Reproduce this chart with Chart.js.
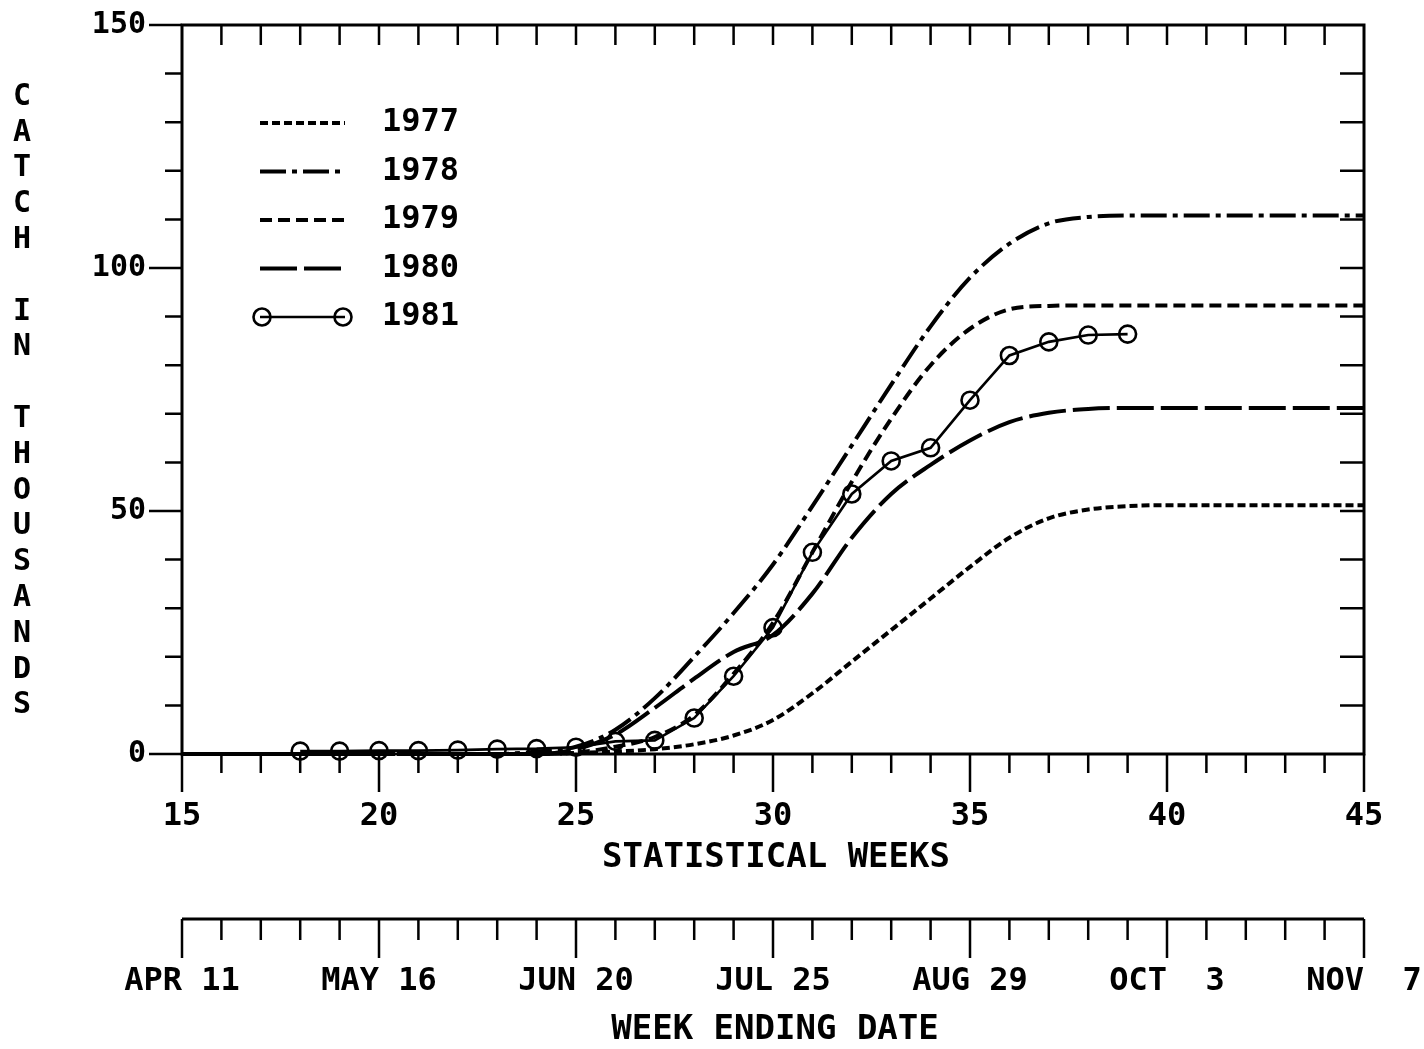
<!DOCTYPE html>
<html>
<head>
<meta charset="utf-8">
<script src="https://cdn.jsdelivr.net/npm/chart.js@4.4.0/dist/chart.umd.min.js"></script>
<style>
  html, body { margin: 0; padding: 0; background: #fff; }
  canvas { display: block; }
</style>
</head>
<body>
<canvas id="chart" width="1424" height="1049"></canvas>
<script>
// statistical weeks 15..45
const weeks = [15,16,17,18,19,20,21,22,23,24,25,26,27,28,29,30,31,32,33,34,35,36,37,38,39,40,41,42,43,44,45];

// cumulative catch, thousands
const catch1977 = [0,0,0,0,0,0,0,0,0,0, 0.2,0.5,1,2,3.8,7,12.5,19,25.5,32,38.5,44.5,48.5,50.3,51,51.2,51.2,51.2,51.2,51.2,51.2];
const catch1978 = [0,0,0,0,0,0,0,0,0, 0.5,1.5,5,11.5,20,29,39,51,63.5,76,88,98,105,109.2,110.5, 110.8,110.8,110.8,110.8,110.8,110.8,110.8];
const catch1979 = [0,0,0,0,0,0,0,0,0,0, 0.3,1.5,3.5,8,16.5,27,41.5,56,69,80,87.5,91.5,92.2, 92.3,92.3,92.3,92.3,92.3,92.3,92.3,92.3];
const catch1980 = [0,0,0,0,0,0,0,0,0,0, 1,4,9.5,15.5,21,24.5,33,44.5,53.5,59.5,64.5,68.3,70.2,71, 71.2,71.2,71.2,71.2,71.2,71.2,71.2];

const weeks1981 = [18,19,20,21,22,23,24,25,26,27,28,29,30,31,32,33,34,35,36,37,38,39];
const catch1981 = [0.6,0.6,0.7,0.7,0.8,1.0,1.1,1.4,2.6,2.8,7.4,16,26,41.5,53.5,60.3,63,72.8,82,84.8,86.2,86.4];

const years = ['1977','1978','1979','1980','1981'];
const weekTicks = [15,20,25,30,35,40,45];
const dateLabels = ['APR 11','MAY 16','JUN 20','JUL 25','AUG 29','OCT  3','NOV  7'];
const catchTicks = [0,50,100,150];
const yTitle = 'CATCH IN THOUSANDS';

const FONT = '"DejaVu Sans Mono", "Liberation Mono", monospace';

function pts(xs, ys) {
    return xs.map((x, i) => ({x: x, y: ys[i]}))
}

const dashed = (label, values, dash) => ({
    label: label,
    data: pts(weeks, values),
    borderColor: '#000',
    borderWidth: 4,
    borderDash: dash,
    pointRadius: 0,
    cubicInterpolationMode: 'monotone',
    fill: false
})

const datasets = [
    dashed(years[0], catch1977, [8, 4]),
    dashed(years[1], catch1978, [26, 6, 5, 6]),
    dashed(years[2], catch1979, [12, 6]),
    dashed(years[3], catch1980, [37, 7]),
    {
        label: years[4],
        data: pts(weeks1981, catch1981),
        borderColor: '#000',
        borderWidth: 2.6,
        tension: 0,
        pointRadius: 8.5,
        pointBorderWidth: 2.6,
        pointBackgroundColor: 'rgba(0,0,0,0)',
        pointBorderColor: '#000',
        fill: false
    }
]

const framePlugin = {
    id: 'frame',
    beforeDatasetsDraw(chart) {
        const {ctx, chartArea: a, scales: {x, y}} = chart
        ctx.save()
        ctx.strokeStyle = '#000'
        ctx.lineWidth = 3
        ctx.strokeRect(a.left, a.top, a.right - a.left, a.bottom - a.top)

        ctx.lineWidth = 2.5
        ctx.beginPath()
        // week ticks: bottom outward, top inward
        for (let w = 15; w <= 45; w++) {
            const px = x.getPixelForValue(w)
            const major = w % 5 === 0
            ctx.moveTo(px, a.bottom)
            ctx.lineTo(px, a.bottom + (major ? 38 : 19))
            if (w > 15 && w < 45) {
                ctx.moveTo(px, a.top)
                ctx.lineTo(px, a.top + 20)
            }
        }
        // catch ticks: left outward, right inward
        for (let v = 0; v <= 150; v += 10) {
            const py = y.getPixelForValue(v)
            const major = v % 50 === 0
            ctx.moveTo(a.left, py)
            ctx.lineTo(a.left - (major ? 33 : 17), py)
            if (v > 0 && v < 150) {
                ctx.moveTo(a.right, py)
                ctx.lineTo(a.right - 24, py)
            }
        }
        ctx.stroke()

        // second axis: week ending date
        const dy = 919
        ctx.lineWidth = 3
        ctx.beginPath()
        ctx.moveTo(x.getPixelForValue(15), dy)
        ctx.lineTo(x.getPixelForValue(45), dy)
        ctx.stroke()
        ctx.lineWidth = 2.5
        ctx.beginPath()
        for (let w = 15; w <= 45; w++) {
            const px = x.getPixelForValue(w)
            ctx.moveTo(px, dy)
            ctx.lineTo(px, dy + (w % 5 === 0 ? 39 : 21))
        }
        ctx.stroke()
        ctx.restore()
    },
    afterDraw(chart) {
        const {ctx, chartArea: a, scales: {x, y}} = chart
        ctx.save()
        ctx.fillStyle = '#000'
        ctx.textBaseline = 'middle'

        // tick labels
        ctx.font = 'bold 32px ' + FONT
        ctx.textAlign = 'center'
        weekTicks.forEach(w => ctx.fillText(String(w), x.getPixelForValue(w), 817))
        dateLabels.forEach((d, i) => ctx.fillText(d, x.getPixelForValue(weekTicks[i]), 982))

        ctx.font = 'bold 30px ' + FONT
        ctx.textAlign = 'right'
        catchTicks.forEach(v => ctx.fillText(String(v), 146, y.getPixelForValue(v)))

        // axis titles
        ctx.font = 'bold 34px ' + FONT
        ctx.textAlign = 'center'
        ctx.fillText('STATISTICAL WEEKS', 776, 858)
        ctx.fillText('WEEK ENDING DATE', 775, 1030)

        ctx.font = 'bold 30px ' + FONT
        for (let i = 0; i < yTitle.length; i++) {
            ctx.fillText(yTitle[i], 22, 97 + i * 35.8)
        }

        // legend
        const ds = chart.data.datasets
        ds.forEach((d, i) => {
            const ly = 123 + i * 48.5
            ctx.strokeStyle = '#000'
            ctx.lineWidth = d.borderWidth
            ctx.setLineDash(d.borderDash || [])
            ctx.beginPath()
            ctx.moveTo(260, ly)
            ctx.lineTo(345, ly)
            ctx.stroke()
            ctx.setLineDash([])
            if (d.pointRadius) {
                ctx.lineWidth = d.pointBorderWidth
                ;[262, 343].forEach(cx => {
                    ctx.beginPath()
                    ctx.arc(cx, ly, d.pointRadius, 0, Math.PI * 2)
                    ctx.stroke()
                })
            }
            ctx.font = 'bold 32px ' + FONT
            ctx.textAlign = 'left'
            ctx.fillText(d.label, 382, ly)
        })
        ctx.restore()
    }
}

new Chart(document.getElementById('chart'), {
    type: 'line',
    data: {datasets: datasets},
    options: {
        responsive: false,
        devicePixelRatio: 1,
        animation: false,
        layout: {padding: {left: 182, right: 60, top: 25, bottom: 295}},
        plugins: {legend: {display: false}, tooltip: {enabled: false}},
        scales: {
            x: {type: 'linear', min: 15, max: 45, display: false},
            y: {min: 0, max: 150, display: false}
        },
        elements: {line: {borderCapStyle: 'butt'}},
        clip: false
    },
    plugins: [framePlugin]
})
</script>
</body>
</html>
